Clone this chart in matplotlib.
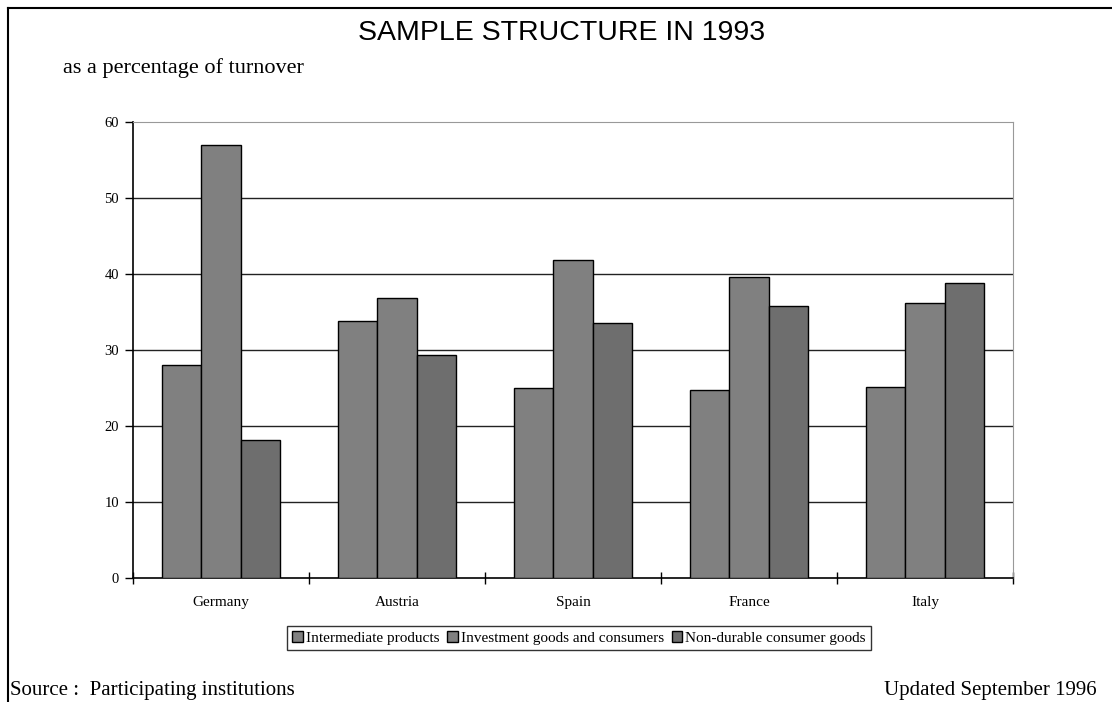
import matplotlib.pyplot as plt
import numpy as np
from matplotlib.lines import Line2D

countries = ["Germany", "Austria", "Spain", "France", "Italy"]
intermediate = [28.0, 33.8, 25.0, 24.8, 25.1]
investment = [57.0, 36.9, 41.8, 39.6, 36.2]
nondurable = [18.2, 29.4, 33.5, 35.8, 38.8]
series_names = ["Intermediate products", "Investment goods and consumers",
                "Non-durable consumer goods"]
yticks = [0, 10, 20, 30, 40, 50, 60]


def main():
    fig = plt.figure(figsize=(11.12, 7.02), dpi=100)
    ax = fig.add_axes([133 / 1112, 1 - 578 / 702, 880 / 1112, 456 / 702])

    x = np.arange(len(countries))
    w = 0.222
    colors = ["#808080", "#808080", "#6e6e6e"]
    data = [intermediate, investment, nondurable]
    for i, vals in enumerate(data):
        ax.bar(x + (i - 1) * w, vals, width=w, color=colors[i],
               edgecolor="black", linewidth=1.0, zorder=3, label=series_names[i])

    ax.set_xlim(-0.5, len(countries) - 0.5)
    ax.set_ylim(0, 60)
    ax.set_yticks(yticks)
    ax.set_yticklabels([str(t) for t in yticks], family="Liberation Serif", fontsize=10.5)
    for t in yticks[1:-1]:
        ax.axhline(t, color="#222222", linewidth=1.0, zorder=1)

    # category labels, ticks at group borders
    ax.set_xticks(np.arange(-0.5, len(countries) + 0.5, 1))
    ax.set_xticklabels([])
    ax.tick_params(axis="x", direction="inout", length=8, width=1)
    ax.tick_params(axis="y", direction="out", length=6, width=1, pad=4)
    for i, c in enumerate(countries):
        ax.text(i, -3.2, c, ha="center", va="center", family="Liberation Serif",
                fontsize=11, transform=ax.transData)

    ax.spines["top"].set_color("#999999")
    ax.spines["right"].set_color("#999999")
    ax.spines["left"].set_linewidth(1.2)
    ax.spines["bottom"].set_linewidth(1.2)

    handles = [plt.Rectangle((0, 0), 1, 1, facecolor=colors[i], edgecolor="black",
                             linewidth=1.0) for i in range(3)]
    leg = fig.legend(handles, series_names, loc="center",
                     bbox_to_anchor=(579 / 1112, 1 - 638 / 702), ncol=3,
                     prop={"family": "Liberation Serif", "size": 11},
                     frameon=True, fancybox=False, edgecolor="black",
                     handlelength=0.7, handleheight=0.7, handletextpad=0.2,
                     columnspacing=0.5, borderpad=0.35, borderaxespad=0)
    leg.get_frame().set_linewidth(1.0)

    fig.text(562 / 1112, 1 - 33 / 702, "SAMPLE STRUCTURE IN 1993", ha="center",
             va="center", family="Liberation Sans", fontsize=20.5)
    fig.text(63 / 1112, 1 - 68 / 702, "as a percentage of turnover", ha="left",
             va="center", family="Liberation Serif", fontsize=16)
    fig.text(10 / 1112, 1 - 690 / 702, "Source :  Participating institutions",
             ha="left", va="center", family="Liberation Serif", fontsize=15)
    fig.text(1097 / 1112, 1 - 690 / 702, "Updated September 1996", ha="right",
             va="center", family="Liberation Serif", fontsize=15)

    # page frame lines
    fig.add_artist(Line2D([8 / 1112, 8 / 1112], [0, 1 - 8 / 702],
                          transform=fig.transFigure, color="black", linewidth=1.5))
    fig.add_artist(Line2D([8 / 1112, 1], [1 - 8 / 702, 1 - 8 / 702],
                          transform=fig.transFigure, color="black", linewidth=1.5))

    fig.savefig("out.png", dpi=100)


if __name__ == "__main__":
    main()
